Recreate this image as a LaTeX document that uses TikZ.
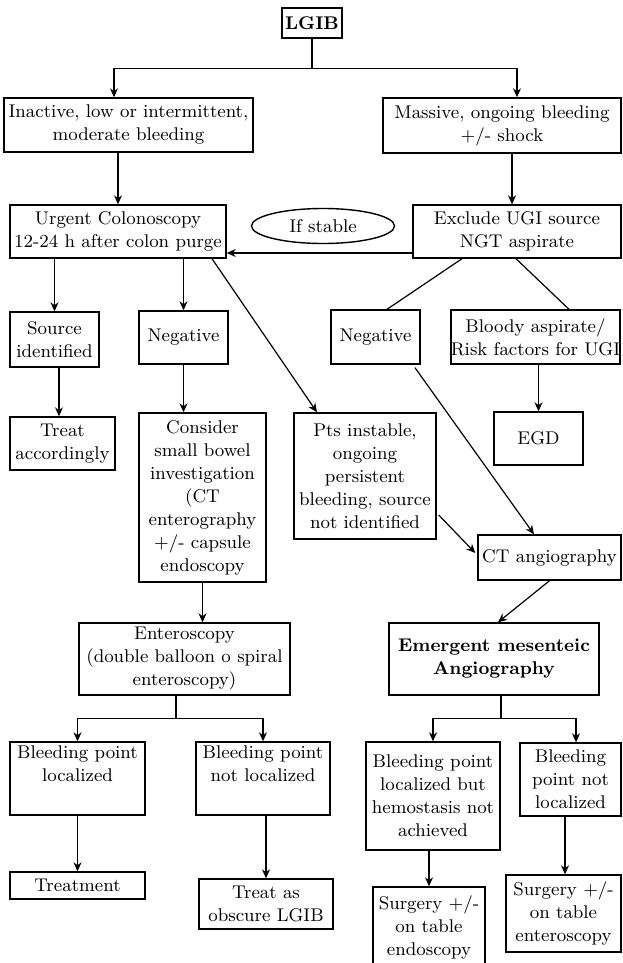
\documentclass[tikz,border=0pt]{standalone}
\usepackage{tikz}
\usetikzlibrary{shapes,arrows.meta,positioning,calc}

\begin{document}
\begin{tikzpicture}[x=0.5pt, y=-0.5pt,
    every node/.style={font=\fontsize{9.2}{11.5}\selectfont},
    box/.style={draw, line width=0.7pt, align=center, inner sep=0pt},
    arr/.style={line width=0.6pt, -{Stealth[length=4.5pt,width=4pt]}},
    ln/.style={line width=0.6pt}]
    \useasboundingbox (0,0) rectangle (622,963);

    % Top
    \node[box, minimum width=30pt, minimum height=15pt, font=\fontsize{9.2}{11.5}\selectfont\bfseries] (lgib) at (312,23) {LGIB};
    \node[box, minimum width=124.5pt, minimum height=27pt] (inact) at (128.5,125) {Inactive, low or intermittent,\\moderate bleeding};
    \node[box, minimum width=119pt, minimum height=27.5pt] (massive) at (502,125.5) {Massive, ongoing bleeding\\+/- shock};

    % Second row
    \node[box, minimum width=108pt, minimum height=26.5pt] (urgent) at (118,231.5) {Urgent Colonoscopy\\12-24 h after colon purge};
    \node[ellipse, draw, line width=0.7pt, minimum width=71.5pt, minimum height=17.5pt, inner sep=0pt] (ifstable) at (323,226) {If stable};
    \node[box, minimum width=104pt, minimum height=26.5pt] (exclude) at (517,231.5) {Exclude UGI source\\NGT aspirate};

    % Third row
    \node[box, minimum width=44.5pt, minimum height=27.5pt] (srcid) at (54.5,339.5) {Source\\identified};
    \node[box, minimum width=44.5pt, minimum height=26.5pt] (neg1) at (183.5,337.5) {Negative};
    \node[box, minimum width=44.5pt, minimum height=27pt] (neg2) at (375.5,337) {Negative};
    \node[box, minimum width=84.5pt, minimum height=27pt] (bloody) at (535.5,337) {Bloody aspirate/\\Risk factors for UGI};

    % Fourth row
    \node[box, minimum width=52.5pt, minimum height=26.5pt] (treatacc) at (62.5,443.5) {Treat\\accordingly};
    \node[box, minimum width=63.5pt, minimum height=84.5pt] (consider) at (202.5,497.5) {Consider\\small bowel\\investigation\\(CT\\enterography\\+/- capsule\\endoscopy};
    \node[box, minimum width=71pt, minimum height=63pt] (pts) at (365,476) {Pts instable,\\ongoing\\persistent\\bleeding, source\\not identified};
    \node[box, minimum width=44.5pt, minimum height=26.5pt] (egd) at (538.5,438.5) {EGD};
    \node[box, minimum width=71.5pt, minimum height=22.5pt] (ctangio) at (549.5,557.5) {CT angiography};

    % Fifth row
    \node[box, minimum width=105.5pt, minimum height=36pt] (entero) at (184.5,659) {Enteroscopy\\(double balloon o spiral\\enteroscopy)};
    \node[box, minimum width=105pt, minimum height=36pt, font=\fontsize{9.2}{11.5}\selectfont\bfseries] (emergent) at (494,659) {Emergent mesenteic\\Angiography};

    % Sixth row
    \node[box, minimum width=67.5pt, minimum height=36.5pt] (bpl) at (77.5,778.5) {Bleeding point\\localized\\\strut};
    \node[box, minimum width=67pt, minimum height=36.5pt] (bpnl) at (263,778.5) {Bleeding point\\not localized\\\strut};
    \node[box, minimum width=67pt, minimum height=54pt] (blb) at (433,796) {Bleeding point\\localized but\\hemostasis not\\achieved};
    \node[box, minimum width=50.5pt, minimum height=36.5pt] (bpnl2) at (570.5,779.5) {Bleeding\\point not\\localized};

    % Bottom row
    \node[box, minimum width=67.5pt, minimum height=13.5pt] (treatment) at (77.5,885.5) {Treatment};
    \node[box, minimum width=67pt, minimum height=25pt] (obscure) at (266,904) {Treat as\\obscure LGIB};
    \node[box, minimum width=56pt, minimum height=40pt] (surgendo) at (429,927) {Surgery +/-\\on table\\endoscopy};
    \node[box, minimum width=57.5pt, minimum height=38.5pt] (surgentero) at (563.5,913.5) {Surgery +/-\\on table\\enteroscopy};

    % Connections
    \draw[ln] (lgib.south) -- ++(0,30) coordinate (split1);
    \draw[arr] (split1) -| ($(inact.north)+(-14.5,0)$);
    \draw[arr] (split1) -| ($(massive.north)+(15,0)$);
    \draw[arr] (inact.south -| urgent.north) -- (urgent.north);
    \draw[arr] ($(massive.south)+(10,0)$) -- ($(exclude.north)+(-5,0)$);
    \draw[arr] ($(exclude.west)+(0,21.5)$) -- ($(urgent.east)+(0,21.5)$);

    % Colonoscopy branch
    \draw[arr] (srcid.north |- urgent.south) -- (srcid.north);
    \draw[arr] (neg1.north |- urgent.south) -- (neg1.north);
    \draw[arr] ($(urgent.south)+(94,0)$) -- ($(pts.north)+(-48,0)$);
    \draw[arr] ($(srcid.south)+(4.5,0)$) -- ($(treatacc.north)+(-3.5,0)$);
    \draw[arr] (neg1.south) -- (neg1.south |- consider.north);
    \draw[arr] (consider.south) -- (consider.south |- entero.north);

    % UGI branch
    \draw[ln] ($(exclude.south)+(-55,0)$) -- ($(neg2.north)+(11.5,0)$);
    \draw[ln] ($(exclude.south)+(-1,0)$) -- ($(bloody.north)+(33.5,0)$);
    \draw[arr] (egd.north |- bloody.south) -- (egd.north);
    \draw[arr] ($(neg2.south)+(39.5,3)$) -- ($(ctangio.north)+(-15.5,0)$);
    \draw[arr] ($(pts.east)+(2,39)$) -- ($(ctangio.west)+(-2,-4.5)$);
    \draw[arr] (ctangio.south) -- ($(emergent.north)+(4,0)$);

    % Enteroscopy split
    \draw[ln] ($(entero.south)+(-8.5,0)$) -- ++(0,23) coordinate (split2);
    \draw[arr] (split2) -| (bpl.north);
    \draw[arr] (split2) -| (bpnl.north);
    \draw[arr] (bpl.south) -- (treatment.north);
    \draw[arr] (obscure.north |- bpnl.south) -- (obscure.north);

    % Angiography split
    \draw[ln] ($(emergent.south)+(7,0)$) -- ++(0,23) coordinate (split3);
    \draw[arr] (split3) -| (blb.north);
    \draw[arr] (split3) -| ($(bpnl2.north)+(5.5,0)$);
    \draw[arr] (surgendo.north |- blb.south) -- (surgendo.north);
    \draw[arr] ($(bpnl2.south)+(-5.5,0)$) -- ($(surgentero.north)+(1.5,0)$);

\end{tikzpicture}
\end{document}
